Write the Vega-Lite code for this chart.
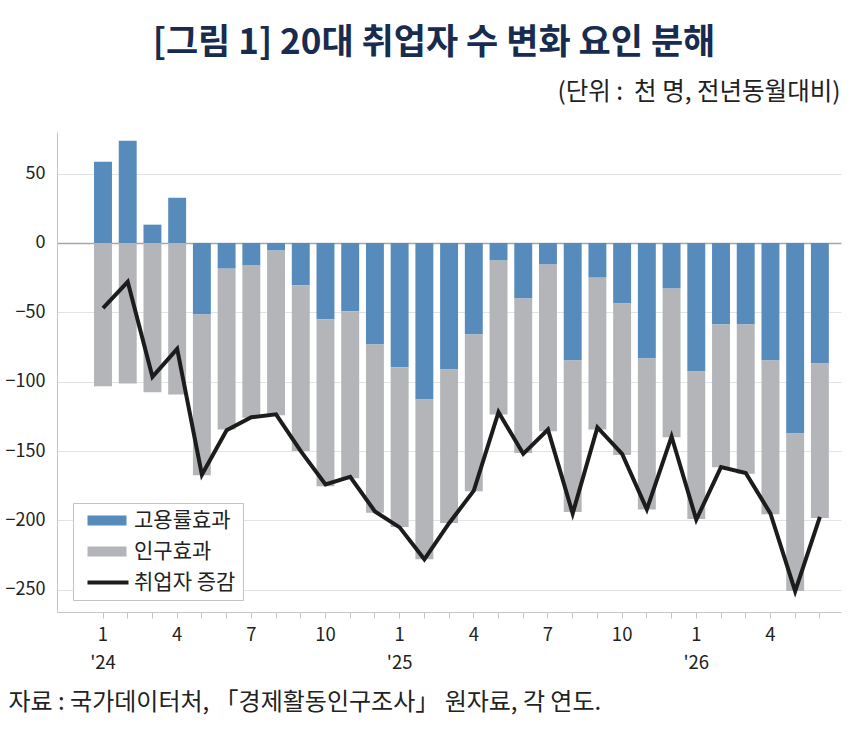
{
  "$schema": "https://vega.github.io/schema/vega-lite/v6.json",
  "width": 784,
  "height": 480,
  "autosize": {"type": "none"},
  "padding": {"left": 57, "top": 132, "right": 27, "bottom": 128},
  "background": "white",
  "title": {
    "text": "[그림 1] 20대 취업자 수 변화 요인 분해",
    "anchor": "middle",
    "frame": "group",
    "dx": -15,
    "offset": 18,
    "font": "Noto Sans CJK KR",
    "fontSize": 35,
    "fontWeight": "bold",
    "color": "#172c4e"
  },
  "datasets": {
    "bars": [
      {"ym": "2024-01", "series": "고용률효과", "value": 58.6}, {"ym": "2024-01", "series": "인구효과", "value": -103.3},
      {"ym": "2024-02", "series": "고용률효과", "value": 73.7}, {"ym": "2024-02", "series": "인구효과", "value": -101.3},
      {"ym": "2024-03", "series": "고용률효과", "value": 13.2}, {"ym": "2024-03", "series": "인구효과", "value": -107.6},
      {"ym": "2024-04", "series": "고용률효과", "value": 32.6}, {"ym": "2024-04", "series": "인구효과", "value": -109.3},
      {"ym": "2024-05", "series": "고용률효과", "value": -51.6}, {"ym": "2024-05", "series": "인구효과", "value": -115.8},
      {"ym": "2024-06", "series": "고용률효과", "value": -18.5}, {"ym": "2024-06", "series": "인구효과", "value": -116.0},
      {"ym": "2024-07", "series": "고용률효과", "value": -16.3}, {"ym": "2024-07", "series": "인구효과", "value": -109.7},
      {"ym": "2024-08", "series": "고용률효과", "value": -5.5}, {"ym": "2024-08", "series": "인구효과", "value": -118.7},
      {"ym": "2024-09", "series": "고용률효과", "value": -30.5}, {"ym": "2024-09", "series": "인구효과", "value": -119.5},
      {"ym": "2024-10", "series": "고용률효과", "value": -55.0}, {"ym": "2024-10", "series": "인구효과", "value": -120.3},
      {"ym": "2024-11", "series": "고용률효과", "value": -49.2}, {"ym": "2024-11", "series": "인구효과", "value": -120.3},
      {"ym": "2024-12", "series": "고용률효과", "value": -73.2}, {"ym": "2024-12", "series": "인구효과", "value": -121.3},
      {"ym": "2025-01", "series": "고용률효과", "value": -89.6}, {"ym": "2025-01", "series": "인구효과", "value": -115.2},
      {"ym": "2025-02", "series": "고용률효과", "value": -112.9}, {"ym": "2025-02", "series": "인구효과", "value": -115.1},
      {"ym": "2025-03", "series": "고용률효과", "value": -91.2}, {"ym": "2025-03", "series": "인구효과", "value": -110.7},
      {"ym": "2025-04", "series": "고용률효과", "value": -66.0}, {"ym": "2025-04", "series": "인구효과", "value": -112.9},
      {"ym": "2025-05", "series": "고용률효과", "value": -12.7}, {"ym": "2025-05", "series": "인구효과", "value": -111.0},
      {"ym": "2025-06", "series": "고용률효과", "value": -40.1}, {"ym": "2025-06", "series": "인구효과", "value": -111.2},
      {"ym": "2025-07", "series": "고용률효과", "value": -15.6}, {"ym": "2025-07", "series": "인구효과", "value": -120.1},
      {"ym": "2025-08", "series": "고용률효과", "value": -84.8}, {"ym": "2025-08", "series": "인구효과", "value": -109.2},
      {"ym": "2025-09", "series": "고용률효과", "value": -25.0}, {"ym": "2025-09", "series": "인구효과", "value": -109.5},
      {"ym": "2025-10", "series": "고용률효과", "value": -43.7}, {"ym": "2025-10", "series": "인구효과", "value": -109.2},
      {"ym": "2025-11", "series": "고용률효과", "value": -83.3}, {"ym": "2025-11", "series": "인구효과", "value": -108.8},
      {"ym": "2025-12", "series": "고용률효과", "value": -32.9}, {"ym": "2025-12", "series": "인구효과", "value": -107.1},
      {"ym": "2026-01", "series": "고용률효과", "value": -92.7}, {"ym": "2026-01", "series": "인구효과", "value": -106.3},
      {"ym": "2026-02", "series": "고용률효과", "value": -58.8}, {"ym": "2026-02", "series": "인구효과", "value": -102.8},
      {"ym": "2026-03", "series": "고용률효과", "value": -58.8}, {"ym": "2026-03", "series": "인구효과", "value": -107.6},
      {"ym": "2026-04", "series": "고용률효과", "value": -84.8}, {"ym": "2026-04", "series": "인구효과", "value": -110.7},
      {"ym": "2026-05", "series": "고용률효과", "value": -137.3}, {"ym": "2026-05", "series": "인구효과", "value": -113.6},
      {"ym": "2026-06", "series": "고용률효과", "value": -86.9}, {"ym": "2026-06", "series": "인구효과", "value": -111.4}
    ],
    "line": [
      {"ym": "2024-01", "series": "취업자 증감", "value": -47},
      {"ym": "2024-02", "series": "취업자 증감", "value": -28},
      {"ym": "2024-03", "series": "취업자 증감", "value": -96.5},
      {"ym": "2024-04", "series": "취업자 증감", "value": -76.3},
      {"ym": "2024-05", "series": "취업자 증감", "value": -167},
      {"ym": "2024-06", "series": "취업자 증감", "value": -135},
      {"ym": "2024-07", "series": "취업자 증감", "value": -125.6},
      {"ym": "2024-08", "series": "취업자 증감", "value": -123.5},
      {"ym": "2024-09", "series": "취업자 증감", "value": -150},
      {"ym": "2024-10", "series": "취업자 증감", "value": -174},
      {"ym": "2024-11", "series": "취업자 증감", "value": -168.5},
      {"ym": "2024-12", "series": "취업자 증감", "value": -193.5},
      {"ym": "2025-01", "series": "취업자 증감", "value": -205},
      {"ym": "2025-02", "series": "취업자 증감", "value": -228},
      {"ym": "2025-03", "series": "취업자 증감", "value": -202},
      {"ym": "2025-04", "series": "취업자 증감", "value": -178.5},
      {"ym": "2025-05", "series": "취업자 증감", "value": -122},
      {"ym": "2025-06", "series": "취업자 증감", "value": -152},
      {"ym": "2025-07", "series": "취업자 증감", "value": -134.5},
      {"ym": "2025-08", "series": "취업자 증감", "value": -195},
      {"ym": "2025-09", "series": "취업자 증감", "value": -133},
      {"ym": "2025-10", "series": "취업자 증감", "value": -152},
      {"ym": "2025-11", "series": "취업자 증감", "value": -192},
      {"ym": "2025-12", "series": "취업자 증감", "value": -139.5},
      {"ym": "2026-01", "series": "취업자 증감", "value": -199.5},
      {"ym": "2026-02", "series": "취업자 증감", "value": -161.5},
      {"ym": "2026-03", "series": "취업자 증감", "value": -165.8},
      {"ym": "2026-04", "series": "취업자 증감", "value": -195},
      {"ym": "2026-05", "series": "취업자 증감", "value": -251},
      {"ym": "2026-06", "series": "취업자 증감", "value": -197.5}
    ]
  },
  "encoding": {
    "x": {
      "field": "ym",
      "type": "ordinal",
      "scale": {"paddingInner": 0.275, "paddingOuter": 0.995, "align": 0.753},
      "axis": {
        "title": "자료 : 국가데이터처, 「경제활동인구조사」 원자료, 각 연도.",
        "titleX": -49,
        "titleY": 90,
        "titleAlign": "left",
        "titleBaseline": "middle",
        "titleFontSize": 24,
        "titleFontWeight": "normal",
        "labelAngle": 0,
        "labelOverlap": false,
        "labelExpr": "toNumber(slice(datum.value,5)) % 3 == 1 ? (toNumber(slice(datum.value,5)) == 1 ? ['1', \"'\" + slice(datum.value,2,4)] : '' + toNumber(slice(datum.value,5))) : ''",
        "labelLineHeight": 28,
        "labelFontSize": 18.5,
        "labelPadding": 7,
        "tickSize": 6,
        "tickColor": "#c4c4c4",
        "domainColor": "#c4c4c4",
        "grid": false
      }
    },
    "color": {
      "field": "series",
      "type": "nominal",
      "scale": {
        "domain": ["고용률효과", "인구효과", "취업자 증감"],
        "range": ["#568bbc", "#b4b5b9", "#1c1c1c"]
      },
      "legend": {
        "orient": "none",
        "legendX": 16,
        "legendY": 371,
        "title": null,
        "padding": 7,
        "symbolOffset": 2,
        "symbolSize": 100,
        "labelOffset": 31,
        "labelFontSize": 21,
        "labelColor": "#222222",
        "rowPadding": 9,
        "strokeColor": "#c3c3c3",
        "fillColor": "white",
        "labelExpr": "datum.label + '\u2003\u2003'",
        "encode": {
          "symbols": {
            "update": {
              "shape": {"signal": "datum.value == '취업자 증감' ? 'M-1,0L7.2,0' : 'M-1,-1L6.8,-1L6.8,1L-1,1Z'"},
              "fill": {"signal": "datum.value == '고용률효과' ? '#568bbc' : datum.value == '인구효과' ? '#b4b5b9' : 'transparent'"},
              "stroke": {"signal": "datum.value == '취업자 증감' ? '#1c1c1c' : 'transparent'"},
              "strokeWidth": {"signal": "datum.value == '취업자 증감' ? 4 : 0"},
              "opacity": {"value": 1}
            }
          }
        }
      }
    }
  },
  "layer": [
    {
      "data": {"name": "bars"},
      "mark": {"type": "bar"},
      "encoding": {
        "y": {
          "field": "value",
          "type": "quantitative",
          "stack": "zero",
          "scale": {"domain": [-266, 80], "nice": false},
          "axis": {
            "title": "(단위 :\u00a0\u00a0천 명, 전년동월대비)",
            "titleAngle": 0,
            "titleAlign": "right",
            "titleBaseline": "middle",
            "titleX": 783,
            "titleY": -40,
            "titleFontSize": 24.5,
            "titleFontWeight": "normal",
            "values": [-250, -200, -150, -100, -50, 0, 50],
            "ticks": false,
            "labelPadding": 12,
            "labelFontSize": 18,
            "domainColor": "#c4c4c4",
            "gridColor": {"condition": {"test": "datum.value === 0", "value": "#a6a6a6"}, "value": "#e3e3e3"},
            "gridWidth": {"condition": {"test": "datum.value === 0", "value": 1.5}, "value": 1}
          }
        },
        "order": {"field": "series", "sort": "ascending"}
      }
    },
    {
      "data": {"name": "line"},
      "mark": {"type": "line", "strokeWidth": 4},
      "encoding": {
        "y": {"field": "value", "type": "quantitative"}
      }
    }
  ],
  "config": {
    "font": "Noto Sans CJK KR",
    "view": {"stroke": null},
    "axis": {"labelColor": "#222222", "titleColor": "#222222", "labelFont": "Noto Sans CJK KR", "titleFont": "Noto Sans CJK KR"},
    "legend": {"labelFont": "Noto Sans CJK KR"}
  }
}
